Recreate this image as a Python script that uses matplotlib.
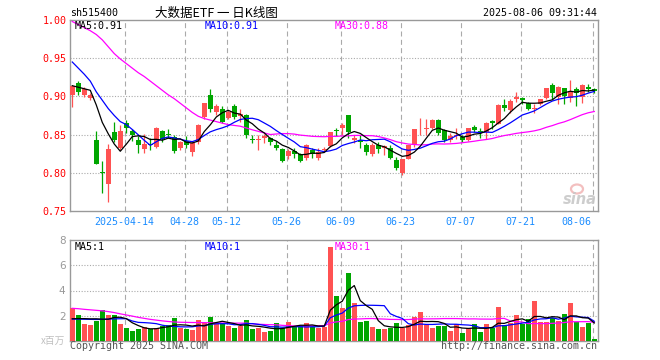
import numpy as np
import pandas as pd
import matplotlib
matplotlib.use("Agg")
import matplotlib.pyplot as plt
from matplotlib.patches import Ellipse

# ---------------- data ----------------
opens = [0.902,0.917,0.902,0.898,0.843,0.801,0.785,0.854,0.833,0.865,
         0.855,0.843,0.831,0.838,0.834,0.855,0.851,0.847,0.832,0.841,
         0.827,0.840,0.873,0.902,0.879,0.884,0.872,0.888,0.874,0.876,
         0.844,0.843,0.845,0.846,0.837,0.831,0.822,0.829,0.824,0.819,
         0.830,0.819,0.830,0.835,0.8552,0.858,0.875,0.843,0.8424,0.837,
         0.824,0.837,0.8328,0.8328,0.8162,0.8001,0.8184,0.8359,0.857,0.857,
         0.859,0.8686,0.8555,0.8424,0.848,0.8472,0.8428,0.860,0.8546,0.8538,
         0.8677,0.8642,0.8887,0.882,0.897,0.8974,0.8913,0.8835,0.8895,0.8983,
         0.9144,0.899,0.9105,0.8983,0.910,0.8996,0.9127,0.9096]
closes = [0.914,0.906,0.910,0.902,0.812,0.800,0.831,0.843,0.855,0.858,
          0.850,0.836,0.838,0.836,0.859,0.844,0.850,0.829,0.840,0.837,
          0.839,0.863,0.891,0.884,0.888,0.867,0.879,0.873,0.877,0.849,
          0.843,0.844,0.848,0.840,0.833,0.816,0.829,0.825,0.815,0.836,
          0.824,0.827,0.831,0.853,0.8546,0.863,0.854,0.8455,0.8407,0.827,
          0.837,0.8306,0.835,0.8188,0.8058,0.8175,0.8363,0.8568,0.8577,0.858,
          0.869,0.8516,0.8424,0.848,0.8485,0.8428,0.8581,0.8555,0.8524,0.8647,
          0.8647,0.8887,0.8843,0.8939,0.8996,0.8948,0.883,0.8839,0.896,0.9105,
          0.904,0.9127,0.9004,0.9061,0.9048,0.9144,0.910,0.9065]
highs = [0.915,0.920,0.912,0.905,0.855,0.816,0.838,0.867,0.863,0.869,
         0.857,0.848,0.851,0.846,0.860,0.856,0.857,0.849,0.842,0.848,
         0.842,0.864,0.892,0.910,0.890,0.887,0.882,0.890,0.884,0.877,
         0.849,0.849,0.851,0.847,0.841,0.832,0.831,0.832,0.826,0.838,
         0.832,0.832,0.834,0.854,0.859,0.865,0.876,0.850,0.849,0.839,
         0.8385,0.840,0.8363,0.836,0.821,0.8175,0.837,0.8577,0.872,0.8708,
         0.870,0.870,0.8568,0.8516,0.859,0.8498,0.859,0.862,0.858,0.8664,
         0.869,0.890,0.897,0.896,0.9057,0.899,0.8926,0.8895,0.896,0.9114,
         0.917,0.9135,0.9114,0.921,0.9118,0.9157,0.9166,0.911]
lows = [0.886,0.902,0.899,0.895,0.811,0.773,0.762,0.840,0.830,0.852,
        0.841,0.826,0.826,0.830,0.832,0.840,0.845,0.826,0.830,0.832,
        0.822,0.838,0.871,0.880,0.876,0.865,0.870,0.871,0.866,0.846,
        0.839,0.830,0.839,0.836,0.830,0.814,0.818,0.820,0.814,0.817,
        0.819,0.817,0.828,0.834,0.848,0.849,0.845,0.8394,0.8328,0.823,
        0.822,0.8263,0.8228,0.8175,0.8031,0.797,0.8175,0.834,0.850,0.850,
        0.8568,0.8494,0.840,0.8407,0.8437,0.8407,0.8415,0.8533,0.845,0.8437,
        0.8577,0.8634,0.8808,0.8786,0.8926,0.8895,0.882,0.8786,0.8882,0.897,
        0.8961,0.8895,0.8895,0.8926,0.8873,0.8917,0.9057,0.9048]
volumes = [2.58,2.03,1.32,1.24,1.55,2.42,2.03,2.03,1.32,1.00,
           0.76,0.92,1.13,0.92,1.05,1.21,1.24,1.79,1.05,0.92,
           0.84,1.63,1.45,1.87,1.45,1.34,1.16,1.00,1.18,1.63,
           0.92,1.00,0.68,0.76,1.39,1.00,1.47,1.13,1.16,1.39,
           1.13,1.05,1.10,7.47,3.53,2.58,5.42,2.97,1.47,1.55,
           1.08,0.92,0.92,1.05,1.39,1.00,1.24,1.87,2.26,1.24,
           1.05,1.16,1.16,0.76,1.37,0.60,1.00,1.32,0.68,1.32,
           1.00,2.66,1.24,1.45,2.03,1.32,1.71,3.13,1.47,1.47,
           1.79,1.55,2.10,2.97,1.47,1.08,1.39,0.16]

# moving-average values before enough visible history exists
ma5_head = [0.914,0.912,0.910,0.908]
ma10_head = [0.945,0.937,0.929,0.920,0.906,0.895,0.884,0.875,0.867]
ma30_head = [0.998,0.994,0.990,0.986,0.981,0.974,0.965,0.956,0.949,0.943,
             0.937,0.931,0.926,0.920,0.914,0.908,0.902,0.897,0.891,0.885,
             0.879,0.874,0.871,0.869,0.867,0.865,0.863,0.862,0.861]
vma5_head = [1.75,1.76,1.76,1.74]
vma10_head = [1.72,1.72,1.71,1.70,1.69,1.70,1.72,1.74,1.75]
vma30_head = [2.58,2.55,2.50,2.46,2.42,2.38,2.32,2.24,2.14,2.05,
              1.96,1.86,1.78,1.70,1.64,1.58,1.53,1.49,1.47,1.46,
              1.45,1.45,1.44,1.43,1.42,1.41,1.40,1.40,1.40]

tick_labels = ["2025-04-14","04-28","05-12","05-26","06-09","06-23","07-07","07-21","08-06"]
tick_index = [9,19,26,36,45,55,65,75,87]

# ---------------- helpers ----------------
def moving(series, n, head):
    s = pd.Series(series).rolling(n).mean().to_numpy()
    s[:len(head)] = head
    return s

ma5 = moving(closes, 5, ma5_head)
ma10 = moving(closes, 10, ma10_head)
ma30 = moving(closes, 30, ma30_head)
vma5 = moving(volumes, 5, vma5_head)
vma10 = moving(volumes, 10, vma10_head)
vma30 = moving(volumes, 30, vma30_head)

W, H = 660, 360
fig = plt.figure(figsize=(6.6, 3.6), dpi=100)
fig.patch.set_facecolor("white")

def fx(px):
    return px / W
def fy(py):
    return 1 - py / H

ax = fig.add_axes([fx(70.3), fy(211), fx(597.7) - fx(70.3), fy(20) - fy(211)])
axv = fig.add_axes([fx(70.3), fy(340.7), fx(597.7) - fx(70.3), fy(240.3) - fy(340.7)])

RED = "#ff5252"
GREEN = "#00a600"
GRID = "#aaaaaa"
MONO = "DejaVu Sans Mono"

n = len(closes)
x = np.arange(n)
o = np.array(opens); c = np.array(closes); h = np.array(highs); l = np.array(lows)
up = c >= o
cols = np.where(up, RED, GREEN)

XMIN, XMAX = -0.33, 87.57
for a in (ax, axv):
    a.set_xlim(XMIN, XMAX)
    for sp in a.spines.values():
        sp.set_color("#999999")
        sp.set_linewidth(1.0)
    a.tick_params(length=0)
    a.set_xticks([])
    for ti in tick_index:
        a.axvline(ti - 0.27, color=GRID, lw=0.8, ls=(0, (4.5, 3)), zorder=0)

# main chart
ax.set_ylim(0.75, 1.00)
yt = [0.75, 0.80, 0.85, 0.90, 0.95, 1.00]
ax.set_yticks(yt)
ax.set_yticklabels([f"{v:.2f}" for v in yt], color="#ff0000", fontsize=7.2, family=MONO)
ax.tick_params(axis="y", pad=2.5)
for v in [0.80, 0.85, 0.90, 0.95]:
    ax.axhline(v, color=GRID, lw=0.8, ls=(0, (1, 1.5)), zorder=0)

ax.vlines(x, l, h, colors=cols, lw=0.9, zorder=2)
body_low = np.minimum(o, c)
body_h = np.maximum(np.abs(c - o), 0.0009)
ax.bar(x, body_h, bottom=body_low, width=0.78, color=cols, edgecolor="none", zorder=3)

ax.plot(x, ma30, color="#ff00ff", lw=0.9, zorder=4)
ax.plot(x, ma10, color="#0000ff", lw=0.9, zorder=4)
ax.plot(x, ma5, color="#000000", lw=0.9, zorder=5)

# x tick labels
for lab, ti in zip(tick_labels, tick_index):
    xp = ti - 0.27
    if ti == tick_index[-1]:
        ax.text(86.45, -0.055, lab, transform=ax.get_xaxis_transform(), ha="right", va="center",
                color="#1a8cff", fontsize=7.2, family=MONO)
    else:
        ax.text(xp, -0.055, lab, transform=ax.get_xaxis_transform(), ha="center", va="center",
                color="#1a8cff", fontsize=7.2, family=MONO)

# volume chart
axv.set_ylim(0, 8)
vt = [2, 4, 6, 8]
axv.set_yticks(vt)
axv.set_yticklabels([str(v) for v in vt], color="#999999", fontsize=7.5)
axv.tick_params(axis="y", pad=3.5)
for v in [2, 4, 6]:
    axv.axhline(v, color=GRID, lw=0.8, ls=(0, (1, 1.5)), zorder=0)
axv.bar(x, volumes, width=0.78, color=cols, edgecolor="none", zorder=3)
axv.plot(x, vma30, color="#ff00ff", lw=0.9, zorder=4)
axv.plot(x, vma10, color="#0000ff", lw=0.9, zorder=4)
axv.plot(x, vma5, color="#000000", lw=0.9, zorder=5)

# ---------------- texts ----------------
fig.text(fx(70), fy(13), "sh515400", fontsize=7.2, family=MONO, va="center", ha="left")
fig.text(fx(216), fy(13), "大数据ETF 一 日K线图", fontsize=9,
         family=["Noto Sans CJK SC", "DejaVu Sans"], va="center", ha="center")
fig.text(fx(597), fy(13), "2025-08-06 09:31:44", fontsize=7.2, family=MONO, va="center", ha="right")

fig.text(fx(75), fy(26), f"MA5:{ma5[-1]:.2f}", fontsize=7.2, family=MONO, va="center", color="#000000")
fig.text(fx(204.3), fy(26), f"MA10:{ma10[-1]:.2f}", fontsize=7.2, family=MONO, va="center", color="#0000ff")
fig.text(fx(334.7), fy(26), f"MA30:{ma30[-1]:.2f}", fontsize=7.2, family=MONO, va="center", color="#ff00ff")

fig.text(fx(75), fy(247), f"MA5:{int(vma5[-1])}", fontsize=7.2, family=MONO, va="center", color="#000000")
fig.text(fx(204.7), fy(247), f"MA10:{int(vma10[-1])}", fontsize=7.2, family=MONO, va="center", color="#0000ff")
fig.text(fx(334.7), fy(247), f"MA30:{int(vma30[-1])}", fontsize=7.2, family=MONO, va="center", color="#ff00ff")

fig.text(fx(65.5), fy(341), "x百万", fontsize=7, family=["Noto Sans CJK SC", "DejaVu Sans"],
         va="center", ha="right", color="#c0c0c0")
fig.text(fx(69.5), fy(346), "Copyright 2025 SINA.COM", fontsize=7.2, family=MONO,
         va="center", ha="left", color="#555555")
fig.text(fx(597), fy(346), "http://finance.sina.com.cn", fontsize=7.2, family=MONO,
         va="center", ha="right", color="#555555")

# sina watermark (logo ring as a patch, word as text)
fig.patches.append(Ellipse((fx(577), fy(189)), width=fx(12), height=(fy(0) - fy(9)),
                           transform=fig.transFigure, facecolor="none",
                           edgecolor="#f0b0b0", lw=1.6, alpha=0.8, zorder=1))
fig.text(fx(580), fy(199), "sina", fontsize=10.5, fontweight="bold", style="italic",
         va="center", ha="center", color="#c8c8c8", alpha=0.9)

fig.savefig("out.png", dpi=100, facecolor="white")
